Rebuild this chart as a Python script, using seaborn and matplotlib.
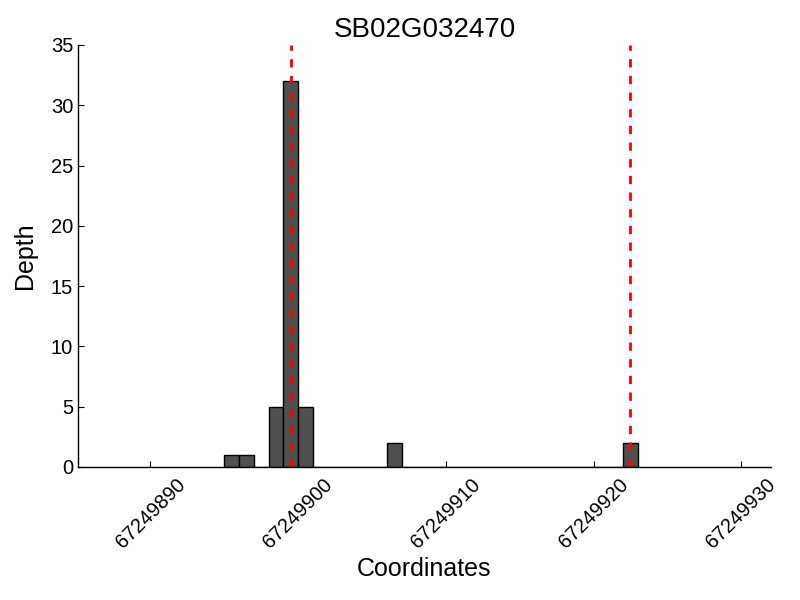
import numpy as np
import pandas as pd
import matplotlib
matplotlib.use("Agg")
import matplotlib.pyplot as plt
import seaborn as sns

# data
coords = [67249895, 67249896, 67249898, 67249899, 67249900, 67249906, 67249922]
depth = [1, 1, 5, 32, 5, 2, 2]
marks = [67249899.5, 67249922.5]
gene = "SB02G032470"
x_ticks = [67249890, 67249900, 67249910, 67249920, 67249930]

df = pd.DataFrame({"coord": coords, "depth": depth})

sns.set_style("ticks")
plt.rcParams["font.family"] = ["Liberation Sans", "DejaVu Sans"]
plt.rcParams.update({"text.color": "black", "axes.labelcolor": "black",
                     "xtick.color": "black", "ytick.color": "black",
                     "axes.edgecolor": "black"})

fig = plt.figure(figsize=(8, 6), dpi=100)
ax = fig.add_axes([0.0975, 0.222, 0.866, 0.703])

sns.histplot(data=df, x="coord", weights="depth", binwidth=1,
             binrange=(min(coords), max(coords) + 1),
             color="#505050", edgecolor="black", linewidth=1, alpha=1, ax=ax)

for m in marks:
    ax.axvline(m, color="red", linestyle="--", linewidth=2, dashes=(3, 3))

ax.set_xlim(67249885.1, 67249932)
ax.set_ylim(0, 35)
ax.set_xticks(x_ticks)
ax.set_xticklabels([str(t) for t in x_ticks], rotation=45, ha="center", fontsize=14.5)
ax.set_yticks(range(0, 36, 5))
ax.tick_params(axis="y", labelsize=14.5, direction="in", length=4, width=0.8)
ax.tick_params(axis="x", direction="in", length=4, width=0.8, pad=6)
for s in ax.spines.values():
    s.set_linewidth(1)
sns.despine(ax=ax)

ax.set_title(gene, fontsize=20)
ax.set_xlabel("Coordinates", fontsize=18)
ax.set_ylabel("Depth", fontsize=18, labelpad=10)

fig.savefig("out.png", dpi=100)
